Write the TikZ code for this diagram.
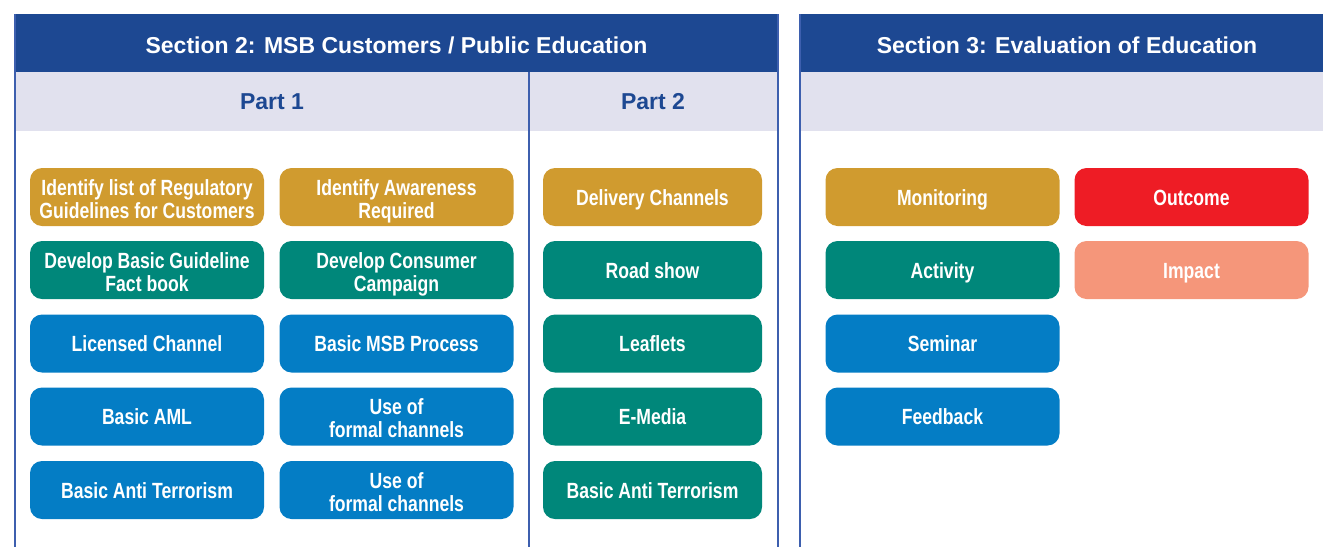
\documentclass[tikz,border=0pt]{standalone}
\usepackage{fontspec}
\setmainfont{Liberation Sans}
\newfontfamily\condfont[FakeStretch=0.8]{Liberation Sans}
\usepackage{tikz}

\definecolor{headblue}{HTML}{1D4892}
\definecolor{lavender}{HTML}{E1E1EE}
\definecolor{lineblue}{HTML}{3D5FAE}
\definecolor{gold}{HTML}{D09B2F}
\definecolor{teal}{HTML}{00877A}
\definecolor{midblue}{HTML}{047DC5}
\definecolor{red}{HTML}{EE1C25}
\definecolor{salmon}{HTML}{F5967A}

\begin{document}
\begin{tikzpicture}[x=0.5pt,y=-0.5pt,
    box/.style={rounded corners=6pt,minimum height=29pt,align=center,
      text=white,inner sep=0pt,
      execute at begin node={\rule{0pt}{10.5pt}},
      execute at end node={\rule[-2.5pt]{0pt}{0pt}},
      font=\condfont\bfseries\fontsize{11}{11.5}\selectfont},
    wide/.style={box,minimum width=117pt},
    twoline/.style={wide,execute at begin node={\rule{0pt}{23.5pt}}},
    narrow/.style={box,minimum width=109.5pt},
    head/.style={text=white,font=\bfseries\fontsize{11.5}{13}\selectfont},
    part/.style={text=headblue,font=\bfseries\fontsize{11.5}{13}\selectfont}]
      \useasboundingbox (0,0) rectangle (1323,547);
      % panels
      \fill[headblue] (15,14) rectangle (778,72);
      \fill[lavender] (15,72) rectangle (778,131);
      \fill[headblue] (800,14) rectangle (1323,72);
      \fill[lavender] (800,72) rectangle (1323,131);
      \draw[lineblue,line width=0.6pt] (15,14) -- (15,547);
      \draw[lineblue,line width=0.6pt] (778,14) -- (778,547);
      \draw[lineblue,line width=0.6pt] (529,72) -- (529,547);
      \draw[lineblue,line width=0.6pt] (800,14) -- (800,547);
      \node[head] (sec2) at (396.5,45) {Section 2: MSB Customers / Public Education};
      \node[head] (sec3) at (1067,45) {Section 3: Evaluation of Education};
      \node[part] (part1) at (272,102) {Part 1};
      \node[part] (part2) at (653,102) {Part 2};
      % part 1
      \node[twoline,fill=gold] (regulatory) at (147,197) {Identify list of Regulatory\\Guidelines for Customers};
      \node[twoline,fill=gold] (awareness) at (396.5,197) {Identify Awareness\\Required};
      \node[twoline,fill=teal] (factbook) at (147,270) {Develop Basic Guideline\\Fact book};
      \node[twoline,fill=teal] (campaign) at (396.5,270) {Develop Consumer\\Campaign};
      \node[wide,fill=midblue] (licensed) at (147,343.5) {Licensed Channel};
      \node[wide,fill=midblue] (process) at (396.5,343.5) {Basic MSB Process};
      \node[wide,fill=midblue] (aml) at (147,416.5) {Basic AML};
      \node[twoline,fill=midblue] (formal1) at (396.5,416.5) {Use of\\formal channels};
      \node[wide,fill=midblue] (terror1) at (147,490) {Basic Anti Terrorism};
      \node[twoline,fill=midblue] (formal2) at (396.5,490) {Use of\\formal channels};
      % part 2
      \node[narrow,fill=gold] (delivery) at (652.5,197) {Delivery Channels};
      \node[narrow,fill=teal] (roadshow) at (652.5,270) {Road show};
      \node[narrow,fill=teal] (leaflets) at (652.5,343.5) {Leaflets};
      \node[narrow,fill=teal] (emedia) at (652.5,416.5) {E-Media};
      \node[narrow,fill=teal] (terror2) at (652.5,490) {Basic Anti Terrorism};
      % section 3
      \node[wide,fill=gold] (monitoring) at (942.5,197) {Monitoring};
      \node[wide,fill=red] (outcome) at (1191.5,197) {Outcome};
      \node[wide,fill=teal] (activity) at (942.5,270) {Activity};
      \node[wide,fill=salmon] (impact) at (1191.5,270) {Impact};
      \node[wide,fill=midblue] (seminar) at (942.5,343.5) {Seminar};
      \node[wide,fill=midblue] (feedback) at (942.5,416.5) {Feedback};
    \end{tikzpicture}
\end{document}
